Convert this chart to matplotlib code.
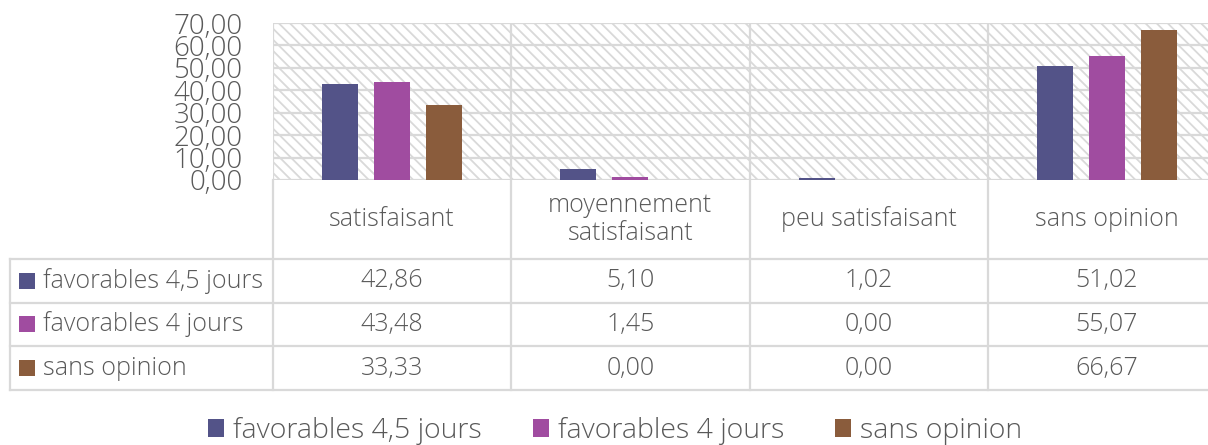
import matplotlib
matplotlib.use("Agg")
import matplotlib.pyplot as plt
from matplotlib.patches import Patch, Rectangle

categories = ["satisfaisant", "moyennement\nsatisfaisant", "peu satisfaisant", "sans opinion"]
series_names = ["favorables 4,5 jours", "favorables 4 jours", "sans opinion"]
fav_45 = [42.86, 5.10, 1.02, 51.02]
fav_4 = [43.48, 1.45, 0.00, 55.07]
sans_op = [33.33, 0.00, 0.00, 66.67]
series_values = [fav_45, fav_4, sans_op]
colors = ["#535388", "#A04CA0", "#8A5C3C"]
y_ticks = [0, 10, 20, 30, 40, 50, 60, 70]

def fmt(v):
    return f"{v:.2f}".replace(".", ",")

plt.rcParams['font.family'] = ['Open Sans', 'DejaVu Sans']
plt.rcParams['hatch.color'] = '#D9D9D9'
plt.rcParams['hatch.linewidth'] = 1.3
TXT = "#595959"
GRID = "#D9D9D9"
W, H = 1208, 445
fig = plt.figure(figsize=(W / 100, H / 100), dpi=100)

def px(x0, y0, x1, y1):
    return [x0 / W, 1 - y1 / H, (x1 - x0) / W, (y1 - y0) / H]

ax = fig.add_axes(px(273, 23, 1226, 180))
ax.set_xlim(0, 4)
ax.set_ylim(0, 70)
ax.add_patch(Rectangle((0, 0), 4, 70, facecolor='white', edgecolor=GRID,
                       hatch='\\\\\\', lw=0, zorder=0))
for s in ax.spines.values():
    s.set_visible(False)
ax.set_yticks(y_ticks)
ax.set_yticklabels([fmt(v) for v in y_ticks], fontsize=20, color=TXT, fontweight='light')
ax.tick_params(axis='y', length=0, pad=22)
ax.set_xticks([])
for yv in y_ticks:
    ax.axhline(yv, color=GRID, lw=1.6, zorder=1)
for xv in range(0, 5):
    ax.axvline(xv, color=GRID, lw=1.6, zorder=1)

bw = 0.151
off = 0.218
for i, (vals, c) in enumerate(zip(series_values, colors)):
    xs = [k + 0.5 + (i - 1) * off for k in range(len(categories))]
    ax.bar(xs, vals, width=bw, color=c, zorder=3)

# data table
tax = fig.add_axes(px(273, 180, 1226, 390))
tax.set_xlim(0, 4)
hdr = 79 / 43.67
tax.set_ylim(3, -hdr)
tax.axis('off')
left = -263 / 238.25
for yv in [0, 1, 2, 3]:
    tax.plot([left, 4], [yv, yv], color=GRID, lw=1.6, clip_on=False)
for xv in range(0, 5):
    tax.plot([xv, xv], [-hdr, 3], color=GRID, lw=1.6, clip_on=False)
tax.plot([left, left], [0, 3], color=GRID, lw=1.6, clip_on=False)

FS = 18
for k, cat in enumerate(categories):
    tax.text(k + 0.5, -hdr / 2, cat, ha='center', va='center', fontsize=FS,
             color=TXT, fontweight='light', linespacing=1.2, clip_on=False)
for i, (name, vals, c) in enumerate(zip(series_names, series_values, colors)):
    for k, v in enumerate(vals):
        tax.text(k + 0.5, i + 0.5, fmt(v), ha='center', va='center', fontsize=FS,
                 color=TXT, fontweight='light', clip_on=False)
    tax.add_patch(Rectangle((left + 9 / 238.25, i + 0.5 - 8 / 43.67), 16 / 238.25, 16 / 43.67,
                            facecolor=c, edgecolor='none', clip_on=False))
    tax.text(left + 33 / 238.25, i + 0.5, name, ha='left', va='center', fontsize=FS,
             color=TXT, fontweight='light', clip_on=False)

handles = [Patch(facecolor=c, edgecolor='none') for c in colors]
fig.legend(handles, series_names, loc='center', bbox_to_anchor=(615 / W, 1 - 431 / H),
           ncol=3, frameon=False, labelcolor=TXT, handlelength=0.56,
           handleheight=0.56, handletextpad=0.31, columnspacing=1.8,
           prop={'weight': 'light', 'size': 20.5})

fig.savefig("out.png", dpi=100)
